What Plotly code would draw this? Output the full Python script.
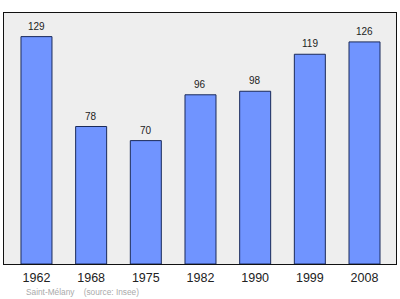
import plotly.graph_objects as go

years = ["1962", "1968", "1975", "1982", "1990", "1999", "2008"]
population = [129, 78, 70, 96, 98, 119, 126]
source_text = "Saint-Mélany    (source: Insee)"

fig = go.Figure()
fig.add_trace(go.Bar(
    x=list(range(len(years))), y=population,
    width=0.567,
    marker=dict(color="#7094ff", line=dict(color="#1a2a5a", width=1)),
    hoverinfo="skip",
))
for i, v in enumerate(population):
    fig.add_annotation(x=i, y=v, text=str(v), showarrow=False,
                       yanchor="bottom", yshift=3,
                       font=dict(family="Liberation Sans, Arial", size=10, color="#222"))
fig.add_annotation(xref="paper", yref="paper", x=0.051, y=-0.112, xanchor="left", yanchor="middle",
                   text=source_text, showarrow=False,
                   font=dict(family="Liberation Sans, Arial", size=8.3, color="#aaaaaa"))

fig.update_layout(
    width=400, height=299,
    margin=dict(l=4, r=4, t=13, b=35),
    paper_bgcolor="white", plot_bgcolor="#eeeeee",
    showlegend=False,
)
fig.update_xaxes(range=[-0.594, 6.576], showline=True, mirror=True,
                 tickmode="array", tickvals=list(range(len(years))), ticktext=years,
                 linecolor="#111", linewidth=1, ticks="outside", ticklen=2, tickcolor="rgba(0,0,0,0)",
                 showgrid=False, zeroline=False,
                 tickfont=dict(family="Liberation Sans, Arial", size=12.5, color="#222"))
fig.update_yaxes(range=[0, 142.4], showline=True, mirror=True, linecolor="#111", linewidth=1,
                 showticklabels=False, showgrid=False, zeroline=False, ticks="")
fig.write_html("out.html")
